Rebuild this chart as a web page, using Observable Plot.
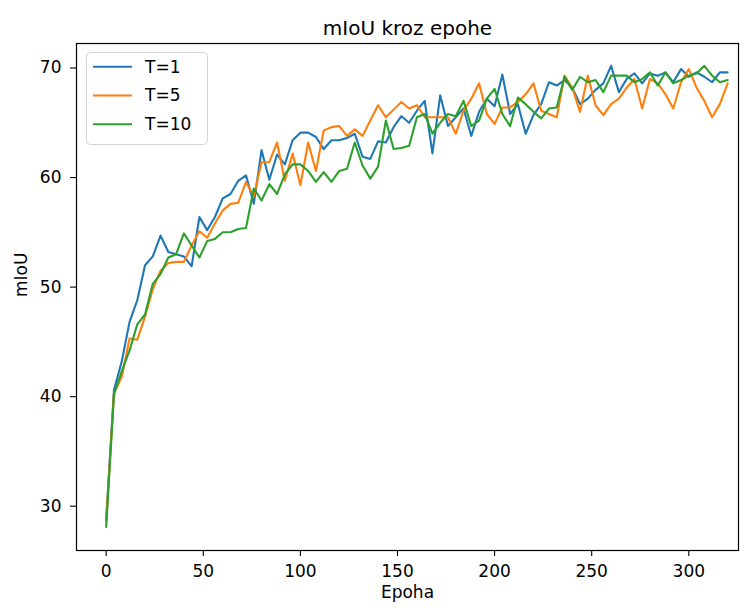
<!DOCTYPE html>
<html><head><meta charset="utf-8">
<script src="https://cdn.jsdelivr.net/npm/d3@7"></script>
<script src="https://cdn.jsdelivr.net/npm/@observablehq/plot@0.6"></script>
<style>body{margin:0;background:#fff;}</style>
</head><body><div id="chart"></div>
<script>
const epochs = [0,4,8,12,16,20,24,28,32,36,40,44,48,52,56,60,64,68,72,76,80,84,88,92,96,100,104,108,112,116,120,124,128,132,136,140,144,148,152,156,160,164,168,172,176,180,184,188,192,196,200,204,208,212,216,220,224,228,232,236,240,244,248,252,256,260,264,268,272,276,280,284,288,292,296,300,304,308,312,316,320];

const t1 = [28.8, 40.6, 43.2, 46.8, 48.8, 52.0, 52.8, 54.7, 53.2, 53.0,
52.8, 51.9, 56.4, 55.2, 56.4, 58.1, 58.5, 59.7, 60.2, 57.6,
62.5, 59.8, 62.1, 61.2, 63.4, 64.1, 64.1, 63.7, 62.6, 63.4,
63.4, 63.6, 64.0, 61.9, 61.7, 63.3, 63.2, 64.6, 65.6, 65.0,
66.1, 67.0, 62.2, 67.5, 64.7, 65.5, 66.3, 63.8, 66.0, 67.2,
66.5, 69.4, 65.8, 66.7, 64.0, 65.7, 66.7, 68.7, 68.4, 68.9,
68.2, 66.7, 67.2, 68.0, 68.6, 70.2, 67.8, 69.0, 69.5, 68.6,
69.5, 69.3, 69.6, 68.7, 69.9, 69.2, 69.6, 69.2, 68.7, 69.6,
69.6];

const t5 = [28.6, 40.3, 41.8, 45.3, 45.2, 47.3, 49.8, 51.5, 52.2, 52.3,
52.3, 53.8, 55.1, 54.5, 55.8, 57.0, 57.6, 57.7, 59.6, 58.3,
61.4, 61.4, 63.2, 59.7, 62.2, 59.3, 63.2, 60.6, 64.3, 64.6,
64.7, 63.8, 64.4, 63.8, 65.2, 66.6, 65.5, 66.2, 66.9, 66.3,
66.6, 65.5, 65.5, 65.5, 65.5, 64.0, 66.1, 67.2, 68.6, 65.8,
64.9, 66.4, 66.4, 66.9, 67.6, 68.6, 66.1, 65.8, 65.5, 69.3,
68.2, 66.0, 69.3, 66.6, 65.7, 66.7, 67.2, 68.2, 69.0, 66.3,
69.0, 68.6, 67.6, 66.3, 68.7, 69.9, 68.2, 67.0, 65.5, 66.7,
68.6];

const t10 = [28.1, 40.2, 42.3, 44.2, 46.6, 47.5, 50.3, 51.2, 52.7, 53.0,
54.9, 53.8, 52.7, 54.2, 54.4, 55.0, 55.0, 55.3, 55.4, 59.0,
57.9, 59.4, 58.5, 60.3, 61.2, 61.2, 60.6, 59.6, 60.5, 59.6,
60.6, 60.8, 63.2, 61.1, 59.9, 61.0, 65.2, 62.6, 62.7, 62.9,
65.5, 65.8, 64.0, 65.0, 65.8, 65.6, 67.0, 64.7, 65.2, 67.2,
68.1, 65.8, 64.7, 67.3, 66.7, 66.0, 65.4, 66.3, 66.4, 69.2,
68.0, 69.2, 68.7, 68.9, 67.8, 69.3, 69.3, 69.3, 68.7, 69.0,
69.6, 68.4, 69.6, 68.6, 68.9, 69.3, 69.5, 70.2, 69.3, 68.7,
68.9];

const seriesNames = ["T=1", "T=5", "T=10"];
const seriesColors = ["#1f77b4", "#ff7f0e", "#2ca02c"];
const xTicks = [0, 50, 100, 150, 200, 250, 300];
const yTicks = [30, 40, 50, 60, 70];
const titleText = "mIoU kroz epohe";
const xLabel = "Epoha";
const yLabel = "mIoU";

const allSeries = [t1, t5, t10];
const rows = allSeries.map((vals, i) => vals.map((v, j) => ({epoch: epochs[j], miou: v, series: seriesNames[i]})));

const font = "DejaVu Sans";
const chart = Plot.plot({
  width: 748, height: 610,
  marginLeft: 76, marginRight: 10, marginTop: 43, marginBottom: 60,
  style: {fontFamily: font, fontSize: "17px", color: "black", background: "white"},
  x: {domain: [-15.29, 325.6]},
  y: {domain: [25.956, 72.236]},
  marks: [
    Plot.axisX({ticks: xTicks, tickSize: 6, tickPadding: 8, label: null, fontSize: 17, strokeWidth: 1.1}),
    Plot.axisY({ticks: yTicks, tickSize: 6, tickPadding: 9, label: null, fontSize: 17, strokeWidth: 1.1}),
    ...rows.map((r, i) => Plot.line(r, {x: "epoch", y: "miou", stroke: seriesColors[i], strokeWidth: 2.1})),
    Plot.frame({stroke: "black", strokeWidth: 1.2}),
    Plot.text([titleText], {text: d => d, frameAnchor: "top", dy: -23, fontSize: 20}),
    Plot.text([xLabel], {text: d => d, frameAnchor: "bottom", dy: 47, fontSize: 17}),
    Plot.text([yLabel], {text: d => d, frameAnchor: "left", dx: -55, rotate: -90, fontSize: 17})
  ]
});
document.getElementById("chart").appendChild(chart);

const lg = d3.select(chart).append("g").attr("font-family", font).attr("font-size", 17).attr("text-anchor", "start");
lg.append("rect").attr("x", 86.5).attr("y", 52.5).attr("width", 121).attr("height", 92).attr("rx", 4)
  .attr("fill", "white").attr("fill-opacity", 0.8).attr("stroke", "#d4d4d4");
seriesNames.forEach((s, i) => {
  const y = 66.7 + i * 28.8;
  lg.append("line").attr("x1", 93).attr("x2", 132).attr("y1", y).attr("y2", y)
    .attr("stroke", seriesColors[i]).attr("stroke-width", 2.1);
  lg.append("text").attr("x", 145).attr("y", y).attr("dy", "0.35em").attr("fill", "black")
    .attr("text-anchor", "start").text(s);
});
</script>
</body></html>
